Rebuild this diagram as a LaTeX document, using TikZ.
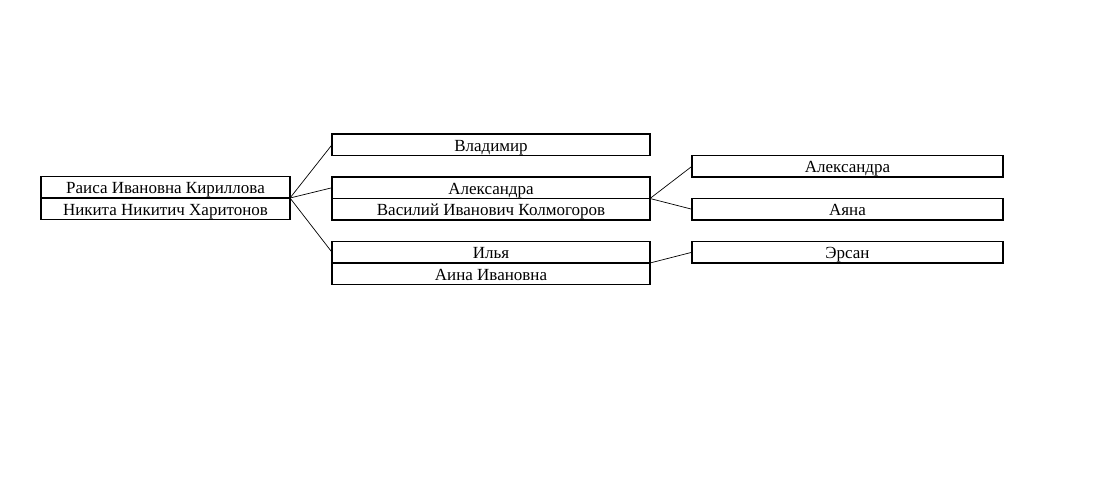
\documentclass[tikz,border=0pt]{standalone}
\usepackage{fontspec}
\setmainfont{Liberation Serif}
\tikzset{person/.style={draw, line width=1.2pt, rectangle, inner sep=0pt, outer sep=0pt, text height=14pt, text depth=1.5pt, font=\fontsize{17}{19}\selectfont},
  pair/.style={person, minimum width=249pt, minimum height=21.5pt},
  child/.style={person, minimum width=318pt, minimum height=21.5pt},
  grand/.style={person, minimum width=311pt, minimum height=21.5pt},
  link/.style={line width=.7pt}}
\begin{document}
\begin{tikzpicture}[x=1pt, y=-1pt]
\useasboundingbox (0,0) rectangle (1108,479);

% parents
\node [pair] (raisa) at (165.5, 187.25) {Раиса Ивановна Кириллова};
\node [pair] (nikita) at (165.5, 208.75) {Никита Никитич Харитонов};

% children
\node [child] (vladimir) at (491, 144.75) {Владимир};
\node [child] (aleks) at (491, 187.75) {Александра};
\node [child] (vasily) at (491, 209.25) {Василий Иванович Колмогоров};
\node [child] (ilya) at (491, 252.25) {Илья};
\node [child] (aina) at (491, 273.75) {Аина Ивановна};

% grandchildren
\node [grand] (aleks2) at (847.5, 166.25) {Александра};
\node [grand] (ayana) at (847.5, 209.25) {Аяна};
\node [grand] (ersan) at (847.5, 252.25) {Эрсан};

\draw [link] (raisa.south east)--(vladimir.west);
\draw [link] (raisa.south east)--(aleks.west);
\draw [link] (raisa.south east)--(ilya.west);
\draw [link] (aleks.south east)--(aleks2.west);
\draw [link] (aleks.south east)--(ayana.west);
\draw [link] (ilya.south east)--(ersan.west);
\end{tikzpicture}
\end{document}
